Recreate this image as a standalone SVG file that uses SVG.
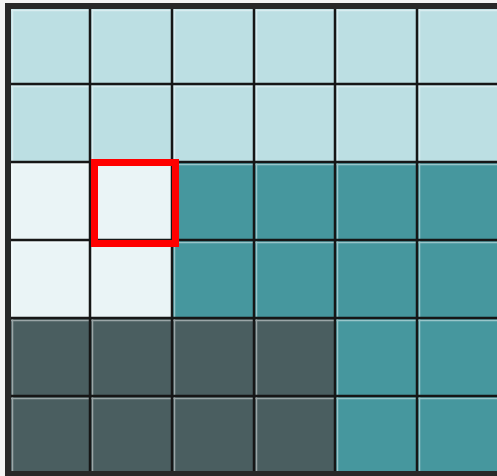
<svg xmlns="http://www.w3.org/2000/svg" width="497" height="476" viewBox="0 0 497 476">
  <style>
    .lb { fill: #bcdfe3; }
    .vl { fill: #eaf4f6; }
    .tl { fill: #46979e; }
    .ds { fill: #4a5e60; }
    .grid { stroke: #161616; stroke-width: 2.5; fill: none; }
    .hl { stroke: #ffffff; stroke-opacity: 0.45; stroke-width: 1.5; fill: none; }
  </style>
  <rect x="0" y="0" width="497" height="476" fill="#f4f4f4"/>
  <g id="cells">
    <!-- rows 0-1 light blue -->
    <rect class="lb" x="8" y="6" width="491" height="156"/>
    <!-- rows 2-3 -->
    <rect class="vl" x="8" y="162" width="164" height="156"/>
    <rect class="tl" x="172" y="162" width="327" height="156"/>
    <!-- rows 4-5 -->
    <rect class="ds" x="8" y="318" width="327" height="156"/>
    <rect class="tl" x="335" y="318" width="164" height="156"/>
  </g>
  <g id="highlights">
    <path class="hl" d="M92.5 6V474 M174.5 6V474 M256.5 6V474 M337.5 6V474 M419.5 6V474 M8 86.5H499 M8 164.5H499 M8 242.5H499 M8 320.5H499 M8 398.5H499 M12.5 6V474 M8 10.5H499"/>
  </g>
  <g id="gridlines">
    <path class="grid" d="M90 6V474 M172 6V474 M254 6V474 M335 6V474 M417 6V474 M8 84H499 M8 162H499 M8 240H499 M8 318H499 M8 396H499"/>
  </g>
  <rect id="border" x="8" y="6" width="495" height="468" fill="none" stroke="#282828" stroke-width="6"/>
  <rect id="selection" x="94.5" y="162.5" width="81" height="81" fill="none" stroke="#ff0000" stroke-width="7"/>
</svg>
